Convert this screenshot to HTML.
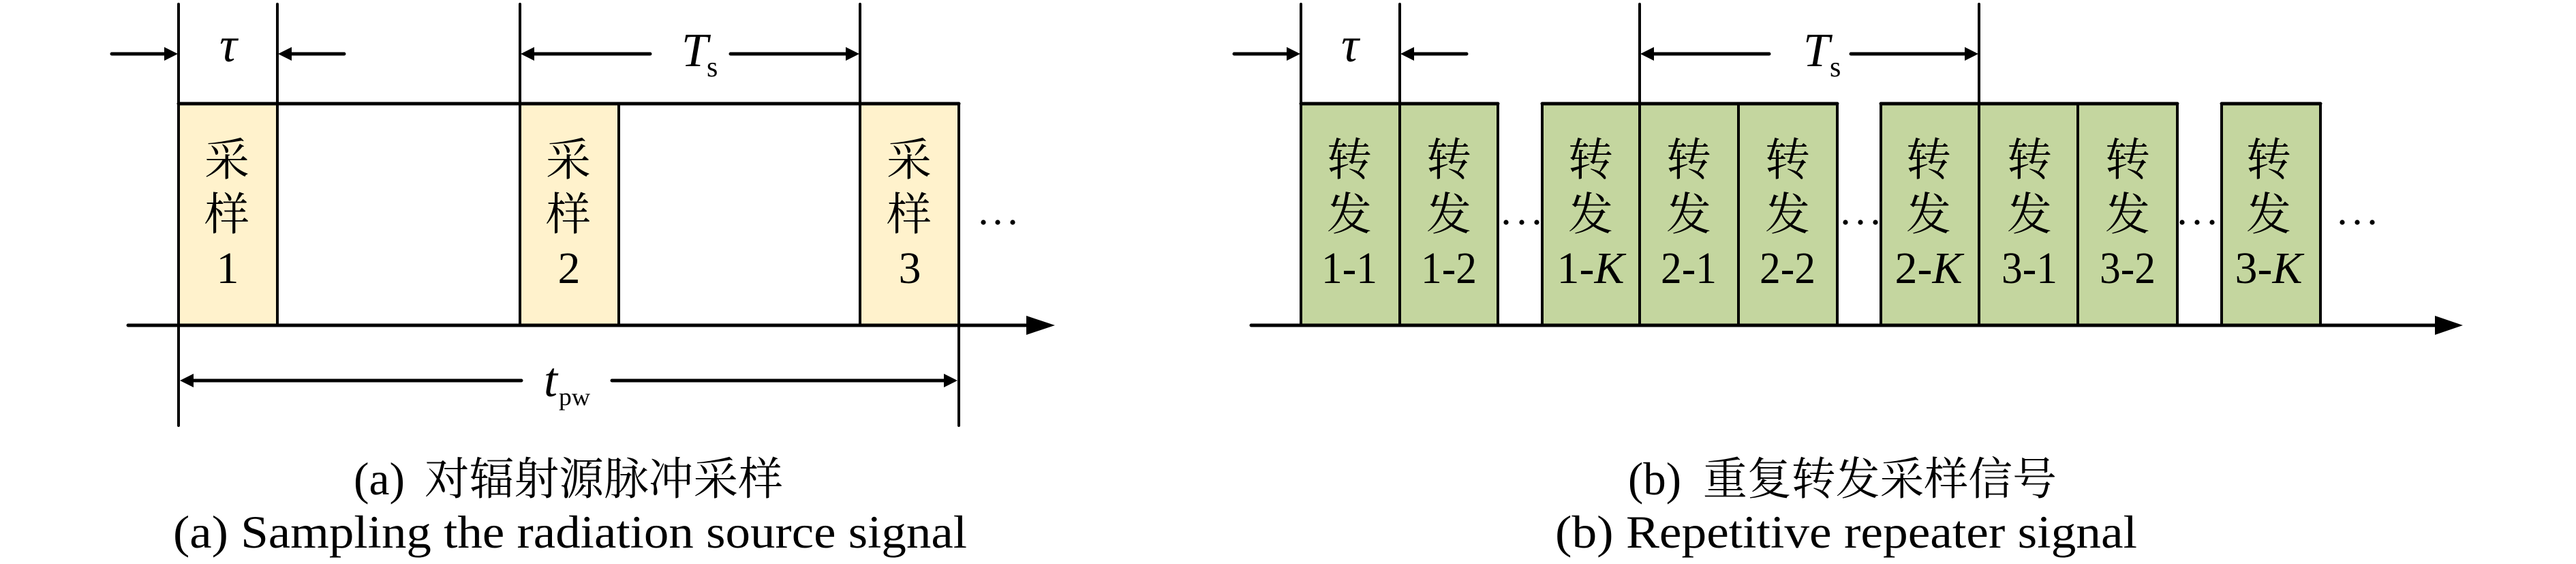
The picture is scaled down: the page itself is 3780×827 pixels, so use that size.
<!DOCTYPE html>
<html><head><meta charset="utf-8"><style>
html,body{margin:0;padding:0;background:#fff;width:3780px;height:827px;overflow:hidden}
svg{display:block}
text{font-family:"Liberation Serif","Noto Serif CJK SC",serif;fill:#000}
.c{font-size:66px;text-anchor:middle;font-family:"Noto Serif CJK SC","Liberation Serif",serif}
.n{font-size:66px;text-anchor:middle}
.i{font-style:italic}
</style></head><body>
<svg width="3780" height="827" viewBox="0 0 3780 827" xmlns="http://www.w3.org/2000/svg">
<rect width="3780" height="827" fill="#fff"/>
<!-- fills -->
<g fill="#FFF2CC"><rect x="262" y="152" width="145" height="325"/><rect x="763" y="152" width="145" height="325"/><rect x="1262" y="152" width="145" height="325"/></g>
<g fill="#C4D69F"><rect x="1909" y="152" width="289" height="325"/><rect x="2263" y="152" width="433" height="325"/><rect x="2760" y="152" width="435" height="325"/><rect x="3260" y="152" width="145" height="325"/></g>
<!-- vertical lines -->
<g stroke="#000" stroke-width="4" fill="none" stroke-linecap="round">
<path d="M262 6V624M407 6V477M763 6V477M908 152V477M1262 6V477M1407 152V624"/>
<path d="M1909 6V477M2054 6V477M2198 152V477M2263 152V477M2406 6V477M2551 152V477M2696 152V477M2760 152V477M2904 6V477M3049 152V477M3195 152V477M3260 152V477M3405 152V477"/>
</g>
<g stroke="#000" stroke-width="5" fill="none" stroke-linecap="round">
<path d="M262 152H1407M1909 152H2198M2263 152H2696M2760 152H3195M3260 152H3405"/>
<path d="M188 477H1510M1836 477H3578"/>
<path d="M164 79H245M424 79H505M780 79H954M1072 79H1245M280 558H765M898 558H1390"/>
<path d="M1811 79H1892M2071 79H2152M2423 79H2596M2716 79H2887"/>
</g>
<g fill="#000">
<path d="M261 79L241 69V89Z"/><path d="M408 79L428 69V89Z"/><path d="M764 79L784 69V89Z"/><path d="M1261 79L1241 69V89Z"/>
<path d="M264 558L284 548V568Z"/><path d="M1405 558L1385 548V568Z"/>
<path d="M1908 79L1888 69V89Z"/><path d="M2055 79L2075 69V89Z"/><path d="M2407 79L2427 69V89Z"/><path d="M2903 79L2883 69V89Z"/>
<path d="M1548 477L1506 463V491Z"/><path d="M3614 477L3573 463V491Z"/>
<!-- dots -->
<circle cx="1443" cy="326" r="3.6"/><circle cx="1464" cy="326" r="3.6"/><circle cx="1486" cy="326" r="3.6"/>
<circle cx="2210" cy="326" r="3.6"/><circle cx="2233" cy="326" r="3.6"/><circle cx="2255" cy="326" r="3.6"/>
<circle cx="2708" cy="326" r="3.6"/><circle cx="2730" cy="326" r="3.6"/><circle cx="2752" cy="326" r="3.6"/>
<circle cx="3202" cy="326" r="3.6"/><circle cx="3224" cy="326" r="3.6"/><circle cx="3246" cy="326" r="3.6"/>
<circle cx="3437" cy="326" r="3.6"/><circle cx="3459" cy="326" r="3.6"/><circle cx="3481" cy="326" r="3.6"/>
</g>
<!-- dim labels -->
<text x="335" y="90" class="n i" style="font-size:72px">τ</text>
<text x="1981" y="90" class="n i" style="font-size:72px">τ</text>
<text x="1000" y="97" font-size="70" class="i">T</text><text x="1037" y="112" font-size="42">s</text>
<text x="2646" y="97" font-size="70" class="i">T</text><text x="2685" y="112" font-size="42">s</text>
<text x="798" y="581" font-size="72" class="i">t</text><text x="820" y="594" font-size="36" textLength="46" lengthAdjust="spacingAndGlyphs">pw</text>
<!-- samples -->
<g>
<text class="c" x="333" y="257">采</text><text class="c" x="333" y="337">样</text>
<text class="c" x="834" y="257">采</text><text class="c" x="834" y="337">样</text>
<text class="c" x="1334" y="257">采</text><text class="c" x="1334" y="337">样</text>
<text class="c" x="1980" y="257">转</text><text class="c" x="1980" y="337">发</text>
<text class="c" x="2126" y="257">转</text><text class="c" x="2126" y="337">发</text>
<text class="c" x="2334" y="257">转</text><text class="c" x="2334" y="337">发</text>
<text class="c" x="2478" y="257">转</text><text class="c" x="2478" y="337">发</text>
<text class="c" x="2623" y="257">转</text><text class="c" x="2623" y="337">发</text>
<text class="c" x="2830" y="257">转</text><text class="c" x="2830" y="337">发</text>
<text class="c" x="2978" y="257">转</text><text class="c" x="2978" y="337">发</text>
<text class="c" x="3122" y="257">转</text><text class="c" x="3122" y="337">发</text>
<text class="c" x="3329" y="257">转</text><text class="c" x="3329" y="337">发</text>
</g>
<text class="n" x="334" y="415">1</text><text class="n" x="835" y="415">2</text><text class="n" x="1335" y="415">3</text>
<text class="n" x="1980" y="415" textLength="82" lengthAdjust="spacingAndGlyphs">1-1</text><text class="n" x="2126" y="415" textLength="82" lengthAdjust="spacingAndGlyphs">1-2</text>
<text class="n" x="2334" y="415">1-<tspan class="i">K</tspan></text>
<text class="n" x="2478" y="415" textLength="82" lengthAdjust="spacingAndGlyphs">2-1</text><text class="n" x="2623" y="415" textLength="82" lengthAdjust="spacingAndGlyphs">2-2</text>
<text class="n" x="2830" y="415">2-<tspan class="i">K</tspan></text>
<text class="n" x="2978" y="415" textLength="82" lengthAdjust="spacingAndGlyphs">3-1</text><text class="n" x="3122" y="415" textLength="82" lengthAdjust="spacingAndGlyphs">3-2</text>
<text class="n" x="3329" y="415">3-<tspan class="i">K</tspan></text>
<!-- captions -->
<text x="519" y="725" font-size="68" textLength="75" lengthAdjust="spacingAndGlyphs">(a)</text>
<text x="623" y="725" font-size="66" textLength="526" lengthAdjust="spacingAndGlyphs" style="font-family:'Noto Serif CJK SC',serif">对辐射源脉冲采样</text>
<text x="254" y="803" font-size="68" textLength="1165" lengthAdjust="spacingAndGlyphs">(a) Sampling the radiation source signal</text>
<text x="2389" y="725" font-size="68" textLength="78" lengthAdjust="spacingAndGlyphs">(b)</text>
<text x="2499" y="725" font-size="66" textLength="519" lengthAdjust="spacingAndGlyphs" style="font-family:'Noto Serif CJK SC',serif">重复转发采样信号</text>
<text x="2282" y="803" font-size="68" textLength="854" lengthAdjust="spacingAndGlyphs">(b) Repetitive repeater signal</text>
</svg>
</body></html>
